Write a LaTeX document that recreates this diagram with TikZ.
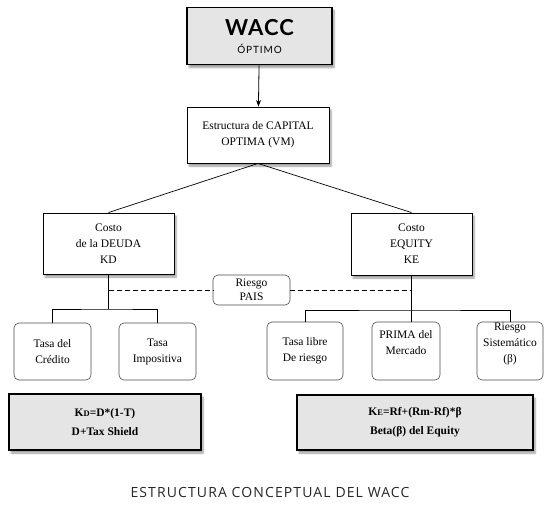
\documentclass[tikz,border=0pt]{standalone}
\usepackage{fontspec}
\setmainfont{Liberation Serif}
\newfontfamily\titlefont{Lato}
\newfontfamily\capfont{Open Sans}[LetterSpace=8]
\usepackage{tikz}
\usetikzlibrary{arrows.meta, positioning, shadows.blur}

\begin{document}
\begin{tikzpicture}[x=1pt, y=-1pt,
                box/.style={draw, fill=white, align=center, font=\fontsize{11.5}{16}\selectfont,
                    line width=0.9pt, blur shadow={shadow xshift=2pt, shadow yshift=-3pt, shadow blur steps=6}},
                res/.style={box, fill=black!10, line width=1.8pt, font=\bfseries\fontsize{11.5}{19}\selectfont},
                leaf/.style={draw=black!70, rounded corners=5pt, fill=white, align=center,
                    font=\fontsize{11.5}{16}\selectfont, line width=0.6pt},
                conn/.style={line width=0.7pt},
                link/.style={conn, dash pattern=on 5pt off 3pt},
                arr/.style={->, line width=0.8pt, >=Stealth}]
                \useasboundingbox (0,0) rectangle (556,506);
                \node[res, minimum width=145pt, minimum height=57pt] (wacc) at (259.5,36)
                    {{\titlefont\bfseries\fontsize{22}{24}\selectfont\addfontfeatures{LetterSpace=5}WACC}\\[-1pt]
                     {\titlefont\mdseries\fontsize{10}{11}\selectfont\addfontfeatures{LetterSpace=9}ÓPTIMO}};
                \node[box, minimum width=142pt, minimum height=56pt] (estr) at (258,135)
                    {Estructura de CAPITAL\\OPTIMA (VM)};
                \node[box, minimum width=131pt, minimum height=61pt] (kd) at (108.5,243.5)
                    {Costo\\de la DEUDA\\KD};
                \node[box, minimum width=121pt, minimum height=62pt] (ke) at (411.5,244)
                    {Costo\\EQUITY\\KE};
                \node[leaf, minimum width=77pt, minimum height=30pt, inner sep=1pt,
                    font=\fontsize{11.5}{14}\selectfont] (pais) at (251.5,290) {Riesgo\\PAIS};
                % hojas de la deuda
                \node[leaf, minimum width=77pt, minimum height=57pt] (cred) at (52.5,351.5)
                    {Tasa del\\Crédito};
                \node[leaf, minimum width=77pt, minimum height=57pt] (impo) at (157.5,351.5)
                    {Tasa\\Impositiva};
                % hojas del equity
                \node[leaf, minimum width=76pt, minimum height=58pt] (libre) at (305,351)
                    {Tasa libre\\De riesgo};
                \node[leaf, minimum width=68pt, minimum height=58pt] (prima) at (406,351)
                    {PRIMA del\\Mercado\\\mbox{}};
                \node[leaf, minimum width=66pt, minimum height=58pt, inner sep=0pt] (beta) at (510,351)
                    {Riesgo\\Sistemático\\(β)\\\mbox{}};
                \node[res, minimum width=192pt, minimum height=56pt] (kdf) at (105,422)
                    {K{\fontsize{8.5}{10}\selectfont D}=D*(1-T)\\D+Tax Shield};
                \node[res, minimum width=236pt, minimum height=55pt] (kef) at (415,422.5)
                    {K{\fontsize{8.5}{10}\selectfont E}=Rf+(Rm-Rf)*β\\Beta(β) del Equity};
                \node[text=black!85, font=\capfont\fontsize{14}{16}\selectfont] (cap) at (270,492)
                    {ESTRUCTURA CONCEPTUAL DEL WACC};
                \coordinate (jd) at (108.5,309);
                \coordinate (je) at (411.5,310);
                \draw[arr] (wacc) -- (estr);
                \draw[conn] (estr.south) -- (kd.north);
                \draw[conn] (estr.south) -- (ke.north);
                \draw[conn] (kd.south) -- (jd);
                \draw[conn] (cred.north) |- (jd) -| (impo.north);
                \draw[conn] (ke.south) -- (je);
                \draw[conn] (libre.north) |- (je) -| (beta.north);
                \draw[conn] (je) -- (je |- prima.north);
                \draw[link] (kd.south |- pais.west) -- (pais.west);
                \draw[link] (pais.east) -- (ke.south |- pais.east);
            \end{tikzpicture}
\end{document}
